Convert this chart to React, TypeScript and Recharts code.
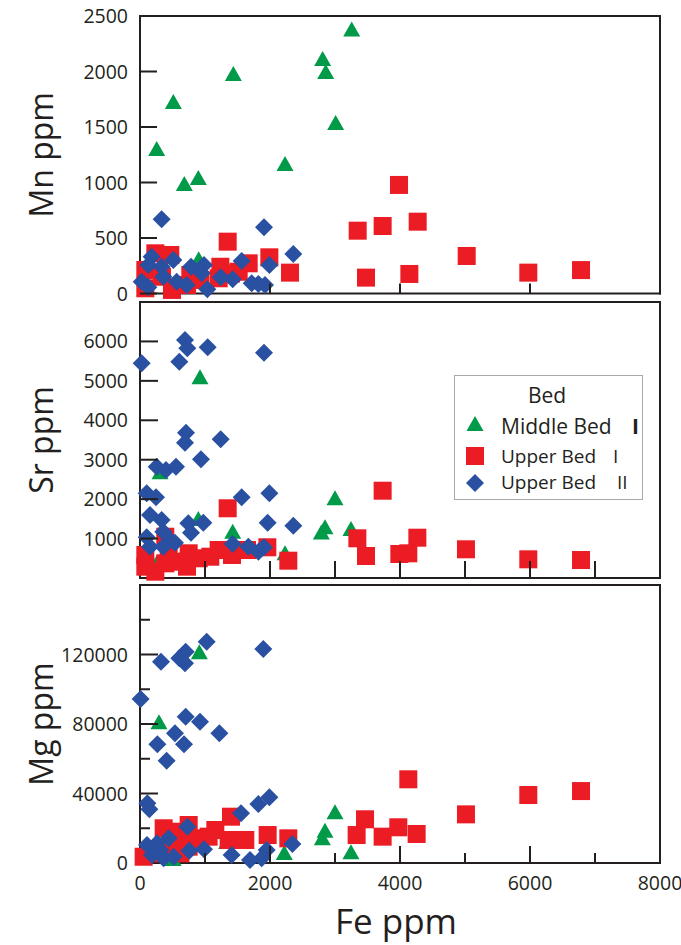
import React from "react";
import { Legend, Scatter, ScatterChart, XAxis, YAxis } from "recharts";

const FONT = "'Open Sans', 'Noto Sans', sans-serif";
const INK = "#231f20";
const GREEN = "#009a49";
const RED = "#ec1c24";
const BLUE = "#2a50a2";

// [Fe ppm, element ppm] per sample
const middleMn = [
  [3257, 2370], [2810, 2104], [2857, 1987], [1436, 1969], [513, 1716], [3010, 1527],
  [257, 1293], [2231, 1158], [897, 1032], [682, 978], [903, 300], [308, 230],
];
const upperIMn = [
  [3985, 978], [4272, 647], [3733, 608], [3349, 566], [1349, 467], [5026, 338],
  [1990, 326], [2308, 188], [4144, 176], [3477, 143], [5974, 188], [6785, 211],
  [236, 362], [466, 347], [1236, 241], [1672, 272], [1518, 196], [1400, 180],
  [82, 212], [82, 47], [492, 32], [723, 77], [774, 167], [1210, 137], [928, 122], [338, 151],
];
const upperIIMn = [
  [333, 668], [1908, 596], [2359, 356], [1990, 257], [1564, 293], [985, 257],
  [785, 241], [513, 302], [179, 332], [128, 257], [333, 241], [26, 106],
  [128, 56], [359, 151], [564, 106], [718, 77], [949, 182], [1036, 38],
  [1241, 146], [1426, 128], [1718, 92], [1821, 86], [1923, 77],
];

const middleSr = [
  [923, 5064], [308, 2655], [3000, 1996], [897, 1471], [2846, 1260], [2790, 1130],
  [3246, 1217], [1426, 1149], [2231, 601], [682, 626], [513, 456], [257, 347],
];
const upperISr = [
  [3733, 2214], [1349, 1768], [3344, 1007], [4267, 1022], [3477, 558], [3990, 609],
  [4128, 626], [5015, 728], [5974, 474], [6785, 456], [1959, 779], [2282, 439],
  [82, 583], [82, 287], [236, 160], [389, 1047], [441, 710], [723, 287],
  [749, 626], [903, 500], [1082, 540], [1210, 710], [1415, 583], [1518, 710],
  [1646, 710], [518, 413], [389, 372],
];
const upperIISr = [
  [692, 6036], [728, 5825], [1041, 5850], [1908, 5714], [26, 5445], [605, 5486],
  [708, 3685], [692, 3431], [1241, 3517], [938, 3010], [257, 2823], [400, 2739],
  [554, 2823], [103, 2148], [246, 2047], [1564, 2047], [1990, 2148], [154, 1598],
  [333, 1471], [743, 1387], [974, 1402], [785, 1149], [1964, 1402], [2359, 1326],
  [359, 1174], [103, 1032], [462, 964], [538, 895], [154, 794], [359, 794],
  [1426, 862], [1667, 794], [1821, 667], [1908, 779],
];

const middleMg = [
  [913, 120680], [292, 80400], [3000, 28600], [2846, 18000], [2805, 13600],
  [3246, 5600], [2220, 5200], [1333, 11500], [510, 1700],
];
const upperIMg = [
  [4128, 48170], [5974, 39130], [6785, 41400], [5015, 28000], [3462, 25150],
  [3974, 20550], [4256, 16700], [3733, 15150], [3333, 16100], [2282, 14200],
  [1964, 16100], [1400, 26650], [1159, 19000], [1056, 15150], [1364, 13250],
  [1620, 13250], [749, 21870], [364, 19970], [518, 18000], [877, 14200],
  [749, 9400], [56, 3600], [185, 5600], [621, 5600], [441, 8450], [672, 12260],
];
const upperIIMg = [
  [1026, 127360], [1897, 123160], [703, 121600], [605, 117800], [323, 115850],
  [692, 114900], [10, 94400], [703, 84200], [923, 81300], [538, 74640],
  [1221, 74640], [267, 68300], [677, 68300], [410, 58900], [113, 34360],
  [144, 30900], [1990, 37800], [1821, 33950], [1554, 28600], [728, 20900],
  [2344, 10930], [1949, 7500], [1872, 2700], [1692, 1700], [1410, 4600],
  [985, 7900], [759, 7100], [108, 10360], [262, 11340], [441, 14200],
  [185, 4600], [364, 2700], [518, 3600], [313, 7500],
];

const feTicks = [0, 1000, 2000, 3000, 4000, 5000, 6000, 7000, 8000];
const feLabels = [0, 2000, 4000, 6000, 8000];
const mnTicks = [0, 500, 1000, 1500, 2000, 2500];
const srTicks = [1000, 2000, 3000, 4000, 5000, 6000];
const mgTicks = [0, 20000, 40000, 60000, 80000, 100000, 120000, 140000];
const mgLabels = [0, 40000, 80000, 120000];

const beds = [
  { name: "Middle Bed", num: "I", kind: "tri", color: GREEN },
  { name: "Upper Bed", num: "I", kind: "sq", color: RED },
  { name: "Upper Bed", num: "II", kind: "dia", color: BLUE },
];

const toPts = (rows: number[][]) => rows.map(([fe, v]) => ({ fe, v }));

function Marker({ kind, cx, cy, color }: { kind: string; cx: number; cy: number; color: string }) {
  if (kind === "tri")
    return <polygon points={`${cx},${cy - 9} ${cx + 8.5},${cy + 6} ${cx - 8.5},${cy + 6}`} fill={color} />;
  if (kind === "sq") return <rect x={cx - 9} y={cy - 9} width={18} height={18} fill={color} />;
  return <polygon points={`${cx},${cy - 9} ${cx + 9},${cy} ${cx},${cy + 9} ${cx - 9},${cy}`} fill={color} />;
}

type Side = "left" | "right" | "top" | "bottom";

// tick marks point inward; labels drawn outside the frame
function mark(side: Side, len: (v: number) => number, labels?: number[]) {
  return function TickMark(props: any) {
    const { x, y, payload } = props;
    const v = payload.value as number;
    const L = len(v);
    const dx = side === "left" ? L : side === "right" ? -L : 0;
    const dy = side === "top" ? L : side === "bottom" ? -L : 0;
    const show = labels && labels.includes(v);
    return (
      <g>
        {L > 0 && <line x1={x} y1={y} x2={x + dx} y2={y + dy} stroke={INK} strokeWidth={2} />}
        {show && side === "left" && (
          <text x={x - 12} y={y} dy="0.36em" textAnchor="end" fontSize={19.5} fontFamily={FONT} fill={INK}>
            {v}
          </text>
        )}
        {show && side === "bottom" && (
          <text x={x} y={y + 27} textAnchor="middle" fontSize={19.5} fontFamily={FONT} fill={INK}>
            {v}
          </text>
        )}
      </g>
    );
  };
}

const frame = { stroke: INK, strokeWidth: 2, strokeLinecap: "square" as const };

function BedLegend() {
  const rows = [
    { cy: 50, base: 59, size: 21, numX: 178, bold: true },
    { cy: 81, base: 88, size: 19, numX: 159, bold: false },
    { cy: 108, base: 114, size: 19, numX: 163, bold: false },
  ];
  return (
    <svg width={190} height={126} style={{ display: "block" }}>
      <rect x={0.5} y={0.5} width={188} height={124} fill="#fff" stroke="#a7a9ac" />
      <text x={93} y={28} textAnchor="middle" fontSize={21} fontFamily={FONT} fill={INK}>
        Bed
      </text>
      {beds.map((b, i) => (
        <g key={i}>
          <Marker kind={b.kind} cx={21} cy={rows[i].cy} color={b.color} />
          <text x={47} y={rows[i].base} fontSize={rows[i].size} fontFamily={FONT} fill={INK}>
            {b.name}
          </text>
          <text
            x={rows[i].numX}
            y={rows[i].base}
            fontSize={rows[i].size}
            fontWeight={rows[i].bold ? 700 : 400}
            fontFamily={FONT}
            fill={INK}
          >
            {b.num}
          </text>
        </g>
      ))}
    </svg>
  );
}

type PanelProps = {
  top: number;
  height: number;
  mt: number;
  mb: number;
  title: string;
  yDomain: [number, number];
  yTicks: number[];
  yLabels: number[];
  yLen: (v: number) => number;
  topLen: (v: number) => number;
  bottomLen: (v: number) => number;
  series: number[][][];
  xTitle?: boolean;
  legend?: boolean;
};

function Panel(p: PanelProps) {
  return (
    <div style={{ position: "absolute", left: 0, top: p.top }}>
      <ScatterChart width={681} height={p.height} margin={{ top: p.mt, right: 21, bottom: p.mb, left: 0 }}>
        <XAxis
          xAxisId="b"
          dataKey="fe"
          type="number"
          domain={[0, 8000]}
          ticks={feTicks}
          interval={0}
          orientation="bottom"
          mirror={!p.xTitle}
          height={p.xTitle ? 82 : 30}
          axisLine={frame}
          tickLine={false}
          tickSize={0}
          tickMargin={0}
          tick={mark("bottom", p.bottomLen, p.xTitle ? feLabels : undefined)}
          label={
            p.xTitle
              ? { value: "Fe ppm", position: "center", dx: -4, dy: 18, fontSize: 35, fill: INK, fontFamily: FONT }
              : undefined
          }
        />
        <XAxis
          xAxisId="t"
          dataKey="fe"
          type="number"
          domain={[0, 8000]}
          ticks={feTicks}
          interval={0}
          orientation="top"
          mirror
          axisLine={frame}
          tickLine={false}
          tickSize={0}
          tickMargin={0}
          tick={mark("top", p.topLen)}
        />
        <YAxis
          yAxisId="l"
          dataKey="v"
          type="number"
          domain={p.yDomain}
          ticks={p.yTicks}
          interval={0}
          width={140}
          axisLine={frame}
          tickLine={false}
          tickSize={0}
          tickMargin={0}
          tick={mark("left", p.yLen, p.yLabels)}
          label={{ value: p.title, angle: -90, position: "center", dx: -28, fontSize: 32, fill: INK, fontFamily: FONT }}
        />
        <YAxis
          yAxisId="r"
          dataKey="v"
          type="number"
          domain={p.yDomain}
          ticks={p.yTicks}
          interval={0}
          orientation="right"
          mirror
          axisLine={frame}
          tickLine={false}
          tickSize={0}
          tickMargin={0}
          tick={mark("right", (v) => p.yLen(v) * 0.85)}
        />
        {p.series.map((rows, i) => (
          <Scatter
            key={i}
            name={beds[i].name + " " + beds[i].num}
            xAxisId="b"
            yAxisId="l"
            data={toPts(rows)}
            fill={beds[i].color}
            isAnimationActive={false}
            shape={(s: any) => <Marker kind={beds[i].kind} cx={s.cx} cy={s.cy} color={beds[i].color} />}
          />
        ))}
        {p.legend && (
          <Legend
            layout="horizontal"
            verticalAlign="middle"
            align="center"
            content={() => <BedLegend />}
            wrapperStyle={{ left: 454, top: 77, width: 190, height: 126 }}
          />
        )}
      </ScatterChart>
    </div>
  );
}

export default function App() {
  return (
    <div style={{ position: "absolute", left: 0, top: 0, width: 681, height: 945, background: "#fff" }}>
      <Panel
        top={0}
        height={310}
        mt={16}
        mb={16.5}
        title="Mn ppm"
        yDomain={[0, 2500]}
        yTicks={mnTicks}
        yLabels={mnTicks}
        yLen={() => 17}
        topLen={() => 17}
        bottomLen={(v) => (v > 0 && v < 8000 && v % 2000 === 0 ? 10 : 0)}
        series={[middleMn, upperIMn, upperIIMn]}
      />
      <Panel
        top={298}
        height={284}
        mt={4}
        mb={4}
        title="Sr ppm"
        yDomain={[0, 7000]}
        yTicks={srTicks}
        yLabels={srTicks}
        yLen={() => 18}
        topLen={(v) => (v > 0 && v < 8000 && v % 2000 === 0 ? 9 : 0)}
        bottomLen={(v) => (v > 0 && v < 8000 ? 17 : 0)}
        series={[middleSr, upperISr, upperIISr]}
        legend
      />
      <Panel
        top={582}
        height={363}
        mt={3}
        mb={0}
        title="Mg ppm"
        yDomain={[0, 160000]}
        yTicks={mgTicks}
        yLabels={mgLabels}
        yLen={(v) => (v === 0 ? 0 : v % 40000 === 0 ? 18 : 10)}
        topLen={(v) => (v > 0 && v < 8000 && v % 2000 === 0 ? 17 : 0)}
        bottomLen={(v) => (v === 0 || v === 8000 ? 0 : v % 2000 === 0 ? 17 : 10)}
        series={[middleMg, upperIMg, upperIIMg]}
        xTitle
      />
    </div>
  );
}
